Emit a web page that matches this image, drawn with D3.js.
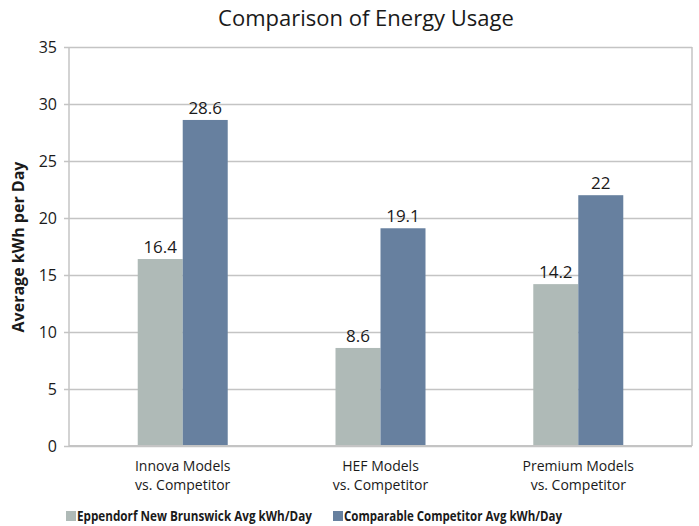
<!DOCTYPE html>
<html lang='en'>
	<head>
		<meta charset='utf-8'>
		<title>Comparison of Energy Usage</title>
		<script src="https://d3js.org/d3.v7.min.js"></script>
		<style>
			body { margin: 0; background: #fff; }
			svg text { font-family: 'Open Sans', 'Noto Sans', sans-serif; fill: #1a1a1a; }
		</style>
	</head>
	<body>
		<div class='visHolder'></div>
		<script>
			// data
			var categories = ['Innova Models|vs. Competitor', 'HEF Models|vs. Competitor', 'Premium Models|vs. Competitor'];
			var seriesNames = ['Eppendorf New Brunswick Avg kWh/Day', 'Comparable Competitor Avg kWh/Day'];
			var eppendorf = [16.4, 8.6, 14.2];
			var competitor = [28.6, 19.1, 22];
			var yTicks = [0, 5, 10, 15, 20, 25, 30, 35];
			var colors = ['#afbab7', '#67809f'];

			var width = 699,
					height = 526,
					plotLeft = 69,
					plotRight = 692,
					plotTop = 47,
					plotBottom = 446,
					barWidth = 45;

			var svg = d3.select('.visHolder')
				.append('svg')
				.attr('width', width)
				.attr('height', height);

			var xScale = d3.scalePoint()
				.domain(categories)
				.range([plotLeft, plotRight])
				.padding(0.575);

			var yScale = d3.scaleLinear()
				.domain([0, 35])
				.range([plotBottom, plotTop]);

			// gridlines
			var yAxis = d3.axisLeft(yScale)
				.tickValues(yTicks)
				.tickSize(-(plotRight - plotLeft) - 5)
				.tickPadding(8);

			var yAxisGroup = svg.append('g')
				.attr('transform', 'translate(' + plotRight + ',0)')
				.call(yAxis);
			yAxisGroup.select('.domain').remove();
			yAxisGroup.selectAll('.tick line')
				.attr('x1', 0)
				.attr('x2', -(plotRight - plotLeft) - 5)
				.attr('stroke', '#c4c4c4')
				.attr('stroke-width', 1.5);
			yAxisGroup.selectAll('.tick text')
				.attr('x', -(plotRight - plotLeft) - 12)
				.style('font-size', '16px')
				.attr('fill', '#1a1a1a');

			// plot border left/right
			svg.append('line')
				.attr('x1', plotLeft).attr('x2', plotLeft)
				.attr('y1', plotTop).attr('y2', plotBottom)
				.attr('stroke', '#c4c4c4').attr('stroke-width', 1.5);
			svg.append('line')
				.attr('x1', plotRight).attr('x2', plotRight)
				.attr('y1', plotTop).attr('y2', plotBottom)
				.attr('stroke', '#c4c4c4').attr('stroke-width', 1.5);

			var series = [eppendorf, competitor];

			series.forEach(function(values, s) {
				svg.append('g').selectAll('rect')
					.data(values)
					.enter()
					.append('rect')
					.attr('x', function(d, i) {
						return xScale(categories[i]) - barWidth + s * barWidth;
					})
					.attr('y', function(d) { return yScale(d); })
					.attr('width', barWidth)
					.attr('height', function(d) { return yScale(0) - yScale(d); })
					.attr('fill', colors[s]);

				svg.append('g').selectAll('text')
					.data(values)
					.enter()
					.append('text')
					.attr('x', function(d, i) {
						return xScale(categories[i]) - barWidth / 2 + s * barWidth;
					})
					.attr('y', function(d) { return yScale(d) - 6; })
					.attr('text-anchor', 'middle')
					.style('font-size', '17px')
					.text(function(d) { return d; });
			});

			// bottom line over bars
			svg.append('line')
				.attr('x1', plotLeft).attr('x2', plotRight)
				.attr('y1', plotBottom).attr('y2', plotBottom)
				.attr('stroke', '#c4c4c4').attr('stroke-width', 2);

			// category labels
			var catLabels = svg.append('g').selectAll('text')
				.data(categories)
				.enter()
				.append('text')
				.attr('text-anchor', 'middle')
				.style('font-size', '14px')
				.attr('fill', '#222');
			catLabels.each(function(d) {
				var parts = d.split('|');
				var el = d3.select(this);
				parts.forEach(function(p, k) {
					el.append('tspan')
						.attr('x', xScale(d))
						.attr('y', 471 + k * 19)
						.text(p);
				});
			});

			// title
			svg.append('text')
				.attr('x', 366)
				.attr('y', 26)
				.attr('text-anchor', 'middle')
				.style('font-size', '22px')
				.text('Comparison of Energy Usage');

			// y axis title
			svg.append('text')
				.attr('transform', 'translate(24,' + 247 + ') rotate(-90)')
				.attr('text-anchor', 'middle')
				.style('font-size', '16px')
				.style('font-weight', 'bold')
				.text('Average kWh per Day');

			// legend
			var legendX = [66, 333];
			var legendW = [235, 218];
			seriesNames.forEach(function(name, s) {
				svg.append('rect')
					.attr('x', legendX[s])
					.attr('y', 511)
					.attr('width', 10)
					.attr('height', 10)
					.attr('fill', colors[s]);
				svg.append('text')
					.attr('x', legendX[s] + 11)
					.attr('y', 521)
					.style('font-size', '14px')
					.style('font-weight', 'bold')
					.attr('textLength', legendW[s])
					.attr('lengthAdjust', 'spacingAndGlyphs')
					.text(name);
			});
		</script>
	</body>
</html>
